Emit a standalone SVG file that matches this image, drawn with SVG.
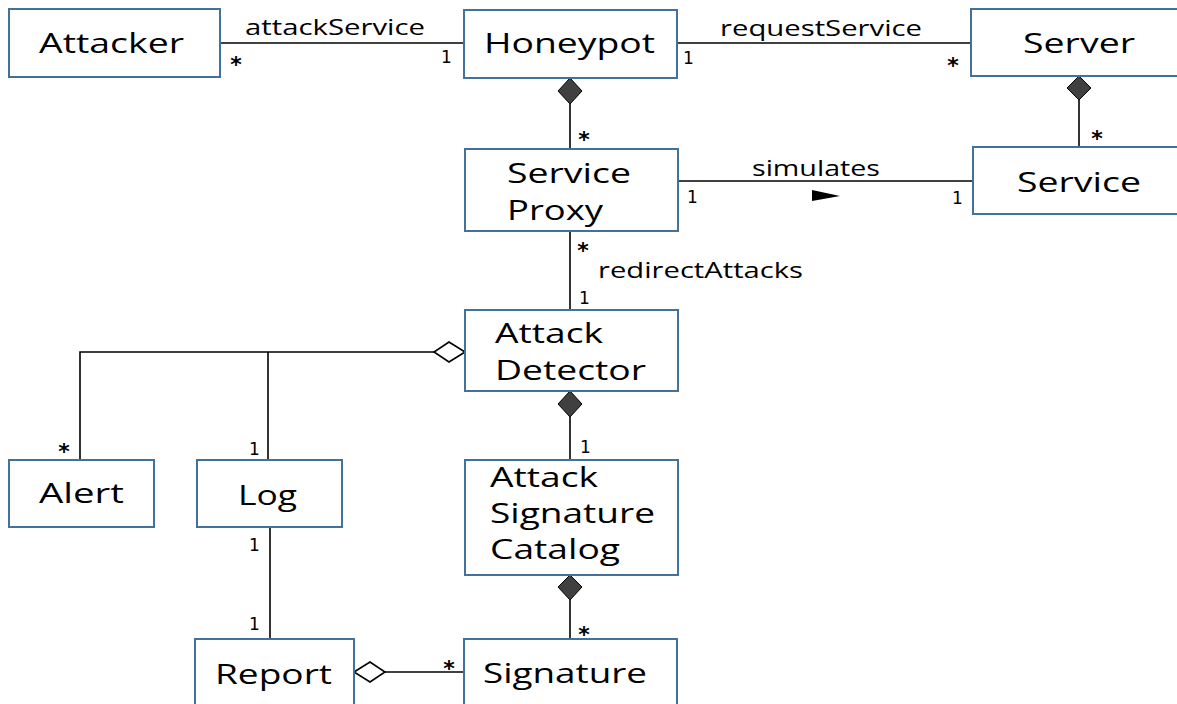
<svg xmlns="http://www.w3.org/2000/svg" width="1177" height="704" viewBox="0 0 1177 704">
<style>
.box{fill:#fff;stroke:#41719c;stroke-width:2}
.nt{font-family:"Open Sans","Liberation Sans",sans-serif;font-size:27px;fill:#000}
.lb{font-family:"Open Sans","Liberation Sans",sans-serif;font-size:21px;fill:#000}
.m{font-family:"DejaVu Sans","Liberation Sans",sans-serif;font-size:17px;fill:#000}
.s{font-family:"DejaVu Sans","Liberation Sans",sans-serif;font-size:22px;font-weight:bold;fill:#000;text-anchor:middle}
.ln{stroke:#000;stroke-width:1.6;fill:none}
.fd{fill:#404040;stroke:#000;stroke-width:1}
.hd{fill:#fff;stroke:#000;stroke-width:1.6}
</style>
<rect width="1177" height="704" fill="#fff"/>
<g id="connectors">
<line class="ln" x1="220" y1="43" x2="464" y2="43"/>
<text class="lb" x="245" y="35" textLength="180" lengthAdjust="spacingAndGlyphs">attackService</text>
<text class="s" x="236" y="72">*</text>
<text class="m" x="441" y="63">1</text>
<line class="ln" x1="677" y1="43" x2="971" y2="43"/>
<text class="lb" x="720" y="36" textLength="202" lengthAdjust="spacingAndGlyphs">requestService</text>
<text class="m" x="683" y="64">1</text>
<text class="s" x="953" y="73">*</text>
<line class="ln" x1="570" y1="104" x2="570" y2="149"/>
<polygon class="fd" points="570,78 582,91 570,104 558,91"/>
<text class="s" x="584" y="147">*</text>
<line class="ln" x1="1079" y1="100" x2="1079" y2="147"/>
<polygon class="fd" points="1079,76 1091,88 1079,100 1067,88"/>
<text class="s" x="1097" y="146">*</text>
<line class="ln" x1="678" y1="181" x2="973" y2="181"/>
<text class="lb" x="752" y="176" textLength="128" lengthAdjust="spacingAndGlyphs">simulates</text>
<polygon points="812,190 840,196 812,201" fill="#000"/>
<text class="m" x="687" y="203">1</text>
<text class="m" x="952" y="204">1</text>
<line class="ln" x1="570" y1="231" x2="570" y2="310"/>
<text class="s" x="583" y="258">*</text>
<text class="lb" x="598" y="278" textLength="205" lengthAdjust="spacingAndGlyphs">redirectAttacks</text>
<text class="m" x="579" y="304">1</text>
<polygon class="hd" points="465,352 449,362 434,352 449,342"/>
<polyline class="ln" points="434,352 80,352 80,460"/>
<line class="ln" x1="268" y1="352" x2="268" y2="460"/>
<text class="s" x="64" y="459">*</text>
<text class="m" x="249" y="455">1</text>
<line class="ln" x1="570" y1="417" x2="570" y2="460"/>
<polygon class="fd" points="570,391 582,404 570,417 558,404"/>
<text class="m" x="580" y="453">1</text>
<line class="ln" x1="270" y1="527" x2="270" y2="639"/>
<text class="m" x="249" y="551">1</text>
<text class="m" x="249" y="630">1</text>
<line class="ln" x1="570" y1="600" x2="570" y2="639"/>
<polygon class="fd" points="570,575 582,587 570,600 558,587"/>
<text class="s" x="584" y="642">*</text>
<line class="ln" x1="385" y1="672" x2="464" y2="672"/>
<polygon class="hd" points="354,672 370,662 385,672 370,682"/>
<text class="s" x="449" y="676">*</text>
</g>
<g id="attacker"><rect class="box" x="9" y="9" width="211" height="68"/><text class="nt" x="39" y="53" textLength="145" lengthAdjust="spacingAndGlyphs">Attacker</text></g>
<g id="honeypot"><rect class="box" x="464" y="10" width="213" height="68"/><text class="nt" x="484" y="53" textLength="171" lengthAdjust="spacingAndGlyphs">Honeypot</text></g>
<g id="server"><rect class="box" x="971" y="9" width="210" height="67"/><text class="nt" x="1023" y="53" textLength="112" lengthAdjust="spacingAndGlyphs">Server</text></g>
<g id="service-proxy"><rect class="box" x="465" y="149" width="213" height="82"/><text class="nt" x="507" y="183" textLength="124" lengthAdjust="spacingAndGlyphs">Service</text><text class="nt" x="507" y="220" textLength="96" lengthAdjust="spacingAndGlyphs">Proxy</text></g>
<g id="service"><rect class="box" x="973" y="147" width="208" height="67"/><text class="nt" x="1017" y="192" textLength="124" lengthAdjust="spacingAndGlyphs">Service</text></g>
<g id="attack-detector"><rect class="box" x="465" y="310" width="213" height="81"/><text class="nt" x="495" y="343" textLength="108" lengthAdjust="spacingAndGlyphs">Attack</text><text class="nt" x="495" y="380" textLength="151" lengthAdjust="spacingAndGlyphs">Detector</text></g>
<g id="alert"><rect class="box" x="9" y="460" width="145" height="67"/><text class="nt" x="39" y="503" textLength="85" lengthAdjust="spacingAndGlyphs">Alert</text></g>
<g id="log"><rect class="box" x="197" y="460" width="145" height="67"/><text class="nt" x="238" y="505" textLength="59" lengthAdjust="spacingAndGlyphs">Log</text></g>
<g id="attack-signature-catalog"><rect class="box" x="465" y="460" width="213" height="115"/><text class="nt" x="490" y="487" textLength="108" lengthAdjust="spacingAndGlyphs">Attack</text><text class="nt" x="490" y="523" textLength="165" lengthAdjust="spacingAndGlyphs">Signature</text><text class="nt" x="490" y="559" textLength="130" lengthAdjust="spacingAndGlyphs">Catalog</text></g>
<g id="report"><rect class="box" x="195" y="639" width="159" height="70"/><text class="nt" x="215" y="684" textLength="117" lengthAdjust="spacingAndGlyphs">Report</text></g>
<g id="signature"><rect class="box" x="464" y="639" width="213" height="70"/><text class="nt" x="483" y="683" textLength="164" lengthAdjust="spacingAndGlyphs">Signature</text></g>
</svg>
